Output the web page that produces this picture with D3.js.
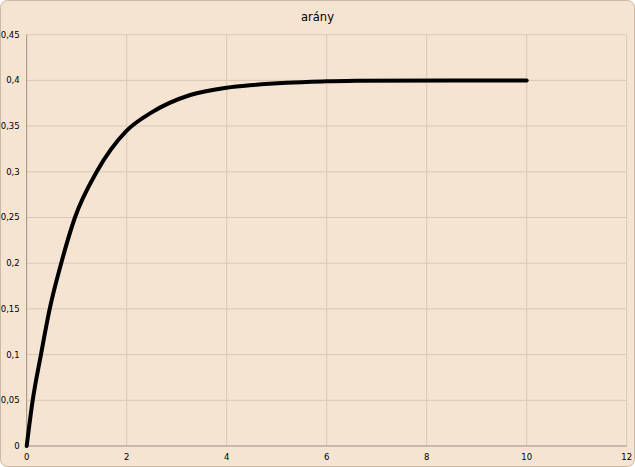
<!DOCTYPE html>
<html>
<head>
<meta charset="utf-8">
<style>
  body { margin: 0; background: #fff; }
  text { font-family: "DejaVu Sans", Verdana, sans-serif; fill: #000; }
</style>
</head>
<body>
<div id="viz"></div>
<script src="https://d3js.org/d3.v7.min.js"></script>
<script>
  // values
  const xValues = [0, 0.12, 0.285, 0.46, 0.69, 0.965, 1.4, 2.0, 2.5, 3.27, 4.0, 4.53, 5.2, 6.0, 6.6, 10];
  const yValues = [0, 0.05, 0.1, 0.15, 0.2, 0.25, 0.3, 0.345, 0.365, 0.384, 0.392, 0.395, 0.3975, 0.399, 0.3997, 0.4];
  const xTicks = [0, 2, 4, 6, 8, 10, 12];
  const yTicks = [0, 0.05, 0.1, 0.15, 0.2, 0.25, 0.3, 0.35, 0.4, 0.45];
  const title = "arány";

  const width = 635,
        height = 467;

  const margin = {top: 34.7, right: 8.3, bottom: 21, left: 26.7};

  const hu = d3.formatLocale({decimal: ",", thousands: " ", grouping: [3], currency: ["", " Ft"]});
  const fmt = hu.format("~g");

  const svg = d3.select("#viz").append("svg")
      .attr("width", width)
      .attr("height", height);

  // chart area
  svg.append("rect")
      .attr("x", 0.5).attr("y", 0.5)
      .attr("width", width - 1).attr("height", height - 1)
      .attr("rx", 7)
      .attr("fill", "#f5e4d2")
      .attr("stroke", "#cbb9a2");

  const x = d3.scaleLinear()
      .domain([0, 12])
      .range([margin.left, width - margin.right]);

  const y = d3.scaleLinear()
      .domain([0, 0.45])
      .range([height - margin.bottom, margin.top]);

  // gridlines
  svg.append("g").selectAll("line.v")
      .data(xTicks.slice(1))
    .enter().append("line")
      .attr("x1", d => x(d)).attr("x2", d => x(d))
      .attr("y1", y(0)).attr("y2", y(0.45))
      .attr("stroke", "#d9c8b3");

  svg.append("g").selectAll("line.h")
      .data(yTicks.slice(1))
    .enter().append("line")
      .attr("x1", x(0)).attr("x2", x(12))
      .attr("y1", d => y(d)).attr("y2", d => y(d))
      .attr("stroke", "#d9c8b3");

  // axis lines
  svg.append("line")
      .attr("x1", x(0)).attr("x2", x(0))
      .attr("y1", y(0)).attr("y2", y(0.45))
      .attr("stroke", "#9c9080");
  svg.append("line")
      .attr("x1", x(0)).attr("x2", x(12))
      .attr("y1", y(0)).attr("y2", y(0))
      .attr("stroke", "#9c9080");

  // tick labels
  svg.append("g").selectAll("text")
      .data(yTicks)
    .enter().append("text")
      .attr("x", x(0) - 7)
      .attr("y", d => y(d))
      .attr("dy", "0.35em")
      .attr("text-anchor", "end")
      .attr("font-size", 8.5)
      .text(d => fmt(d));

  svg.append("g").selectAll("text")
      .data(xTicks)
    .enter().append("text")
      .attr("x", d => x(d))
      .attr("y", y(0) + 14)
      .attr("text-anchor", "middle")
      .attr("font-size", 8.5)
      .text(d => fmt(d));

  // title
  svg.append("text")
      .attr("x", width / 2)
      .attr("y", 21)
      .attr("text-anchor", "middle")
      .attr("font-size", 11.5)
      .text(title);

  // curve
  const data = xValues.map((d, i) => [d, yValues[i]]);

  const line = d3.line()
      .x(d => x(d[0]))
      .y(d => y(d[1]))
      .curve(d3.curveMonotoneX);

  svg.append("path")
      .datum(data)
      .attr("fill", "none")
      .attr("stroke", "#000")
      .attr("stroke-width", 4)
      .attr("stroke-linejoin", "round")
      .attr("stroke-linecap", "round")
      .attr("d", line);
</script>
</body>
</html>
